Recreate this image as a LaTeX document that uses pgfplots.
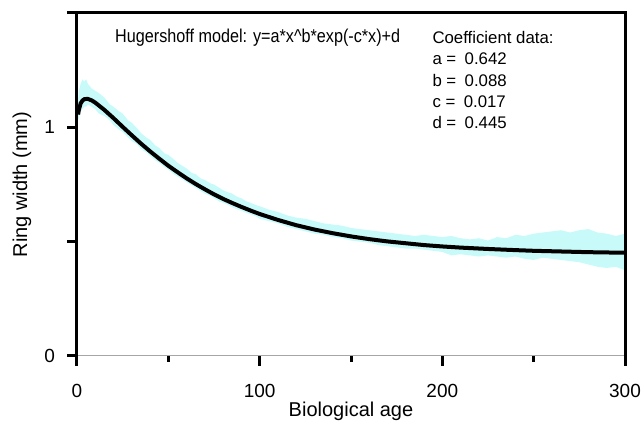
\documentclass[border=0pt]{standalone}
\usepackage{fontspec}
\setmainfont{Liberation Sans}
\newfontfamily\narrowfont[FakeStretch=0.87]{Liberation Sans}
\usepackage{pgfplots}
\pgfplotsset{compat=1.18}
\usepackage{pgfplotstable}
\usepgfplotslibrary{fillbetween}
\definecolor{bandcol}{RGB}{200,250,250}

\pgfplotstableread{
x up lo
0.6 1.12 1.03
1 1.16 1.04
2 1.19 1.07
3 1.21 1.08
4 1.20 1.09
5 1.21 1.09
6 1.19 1.10
8 1.17 1.09
10 1.16 1.08
12 1.15 1.06
15 1.13 1.05
18 1.10 1.03
20 1.09 1.01
23 1.07 0.99
25 1.06 0.98
28 1.03 0.955
30 1.02 0.94
33 0.995 0.925
35 0.975 0.905
38 0.955 0.89
40 0.945 0.875
43 0.92 0.855
45 0.91 0.845
48 0.885 0.825
50 0.88 0.815
53 0.86 0.795
55 0.845 0.785
58 0.83 0.77
60 0.82 0.76
63 0.80 0.745
65 0.795 0.735
68 0.775 0.72
70 0.77 0.71
73 0.755 0.70
75 0.75 0.69
78 0.735 0.675
80 0.725 0.67
83 0.715 0.66
85 0.71 0.65
88 0.695 0.64
90 0.69 0.635
93 0.675 0.625
95 0.67 0.62
98 0.66 0.61
100 0.655 0.60
105 0.64 0.59
110 0.63 0.58
115 0.615 0.565
120 0.605 0.555
125 0.60 0.545
130 0.59 0.535
135 0.58 0.53
140 0.575 0.52
145 0.57 0.515
150 0.56 0.505
155 0.555 0.50
160 0.55 0.495
165 0.545 0.485
170 0.54 0.48
175 0.535 0.475
180 0.53 0.47
185 0.525 0.47
190 0.53 0.465
195 0.525 0.46
200 0.52 0.455
205 0.525 0.44
210 0.515 0.445
215 0.51 0.44
220 0.515 0.435
225 0.505 0.44
230 0.52 0.435
235 0.515 0.43
240 0.53 0.435
245 0.525 0.425
250 0.535 0.42
255 0.54 0.43
260 0.545 0.425
265 0.55 0.42
270 0.54 0.415
275 0.55 0.41
280 0.555 0.40
285 0.54 0.39
290 0.535 0.385
295 0.525 0.39
300 0.535 0.375
}\bandtable

\begin{document}
\begin{tikzpicture}
\begin{axis}[
  scale only axis, width=274pt, height=171.5pt,
  xmin=0, xmax=300, ymin=0, ymax=1.5,
  clip=false,
  axis line style={draw=none},
  tick pos=left, tick align=outside,
  xtick={0,100,200,300}, xticklabels={0,100,200,300},
  minor xtick={50,150,250},
  ytick={0,0.5,1,1.5}, yticklabels={0,,1,},
  major tick length=5pt, minor tick length=3pt,
  tick style={line width=1.5pt, black},
  ticklabel style={font=\fontsize{9.5}{11}\selectfont},
  xticklabel style={yshift=-5.5pt},
  yticklabel style={xshift=-2.5pt},
  /pgf/number format/assume math mode=true,
  xlabel={Biological age}, ylabel={Ring width (mm)},
  label style={font=\fontsize{10}{12}\selectfont},
  xlabel style={at={(axis description cs:0.5,-0.16)}, anchor=center},
  ylabel style={at={(axis description cs:-0.1004,0.5)}, anchor=center},
]
\addplot[name path=U, draw=none, forget plot] table[x=x,y=up]{\bandtable};
\addplot[name path=L, draw=none, forget plot] table[x=x,y=lo]{\bandtable};
\addplot[bandcol, draw=none, forget plot] fill between[of=U and L];
\addplot[black, line width=2pt] coordinates {
(0.6,1.056)(1,1.076)(2,1.105)(3,1.117)(4,1.123)(5,1.124)(6,1.124)(8,1.118)
(10,1.108)(15,1.076)(20,1.040)(25,1.002)(30,0.965)(35,0.929)(40,0.895)
(45,0.863)(50,0.832)(55,0.804)(60,0.777)(65,0.752)(70,0.729)(75,0.707)
(80,0.687)(85,0.669)(90,0.652)(95,0.636)(100,0.621)(110,0.595)(120,0.572)
(130,0.553)(140,0.537)(150,0.523)(160,0.511)(170,0.501)(180,0.493)
(190,0.485)(200,0.479)(210,0.474)(225,0.468)(240,0.463)(250,0.460)
(260,0.458)(275,0.455)(280,0.454)(300,0.4515)};
\node[anchor=base west, inner sep=0, font=\narrowfont\fontsize{9.3}{11}\selectfont]
  at (rel axis cs:0.069,0.913) {Hugershoff model: y=a*x\textasciicircum b*exp(-c*x)+d};
\node[anchor=north west, inner sep=0, align=left, font=\fontsize{8.4}{10.6}\selectfont]
  at (rel axis cs:0.648,0.947) {Coefficient data:\\a =\enspace0.642\\b =\enspace0.088\\c =\enspace0.017\\d =\enspace0.445};
\draw[gray!70, line width=0.5pt] (rel axis cs:0,0) -- (rel axis cs:1,0);
\draw[line width=1.5pt] (rel axis cs:0,0) -- (rel axis cs:0,1) -- (rel axis cs:1,1) -- (rel axis cs:1,0);
\end{axis}
\pgfresetboundingbox
\path (-38.5pt,-32.5pt) rectangle (283pt,178pt);
\end{tikzpicture}
\end{document}
